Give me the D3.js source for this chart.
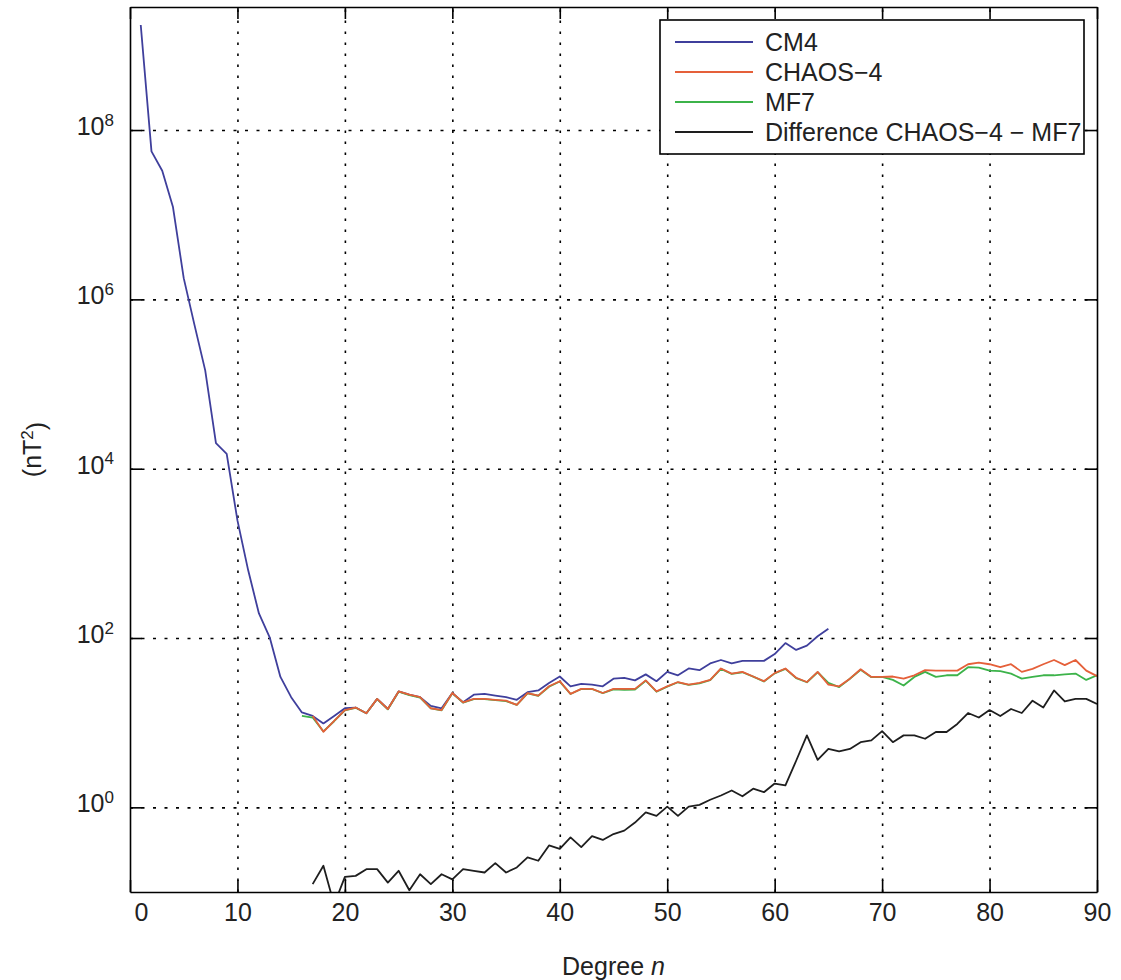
<!DOCTYPE html>
<html>
<head>
<meta charset="utf-8">
<script src="https://cdn.jsdelivr.net/npm/d3@7"></script>
<style>
  html, body { margin: 0; padding: 0; background: #fff; }
  svg { display: block; font-family: "Liberation Sans", Arial, Helvetica, sans-serif; }
</style>
</head>
<body>
<svg id="chart" width="1121" height="980"></svg>
<script>
// ---- data ----
const xTicks = [0, 10, 20, 30, 40, 50, 60, 70, 80, 90];
const yTicks = [1, 1e2, 1e4, 1e6, 1e8];
const yTickExponents = ["0", "2", "4", "6", "8"];
const xDomain = [0, 90];
const yDomain = [0.1, 2.84e9];

const cm4Start = 1;
const cm4Values = [1.74e9, 5.6e7, 3.3e7, 1.23e7, 1.78e6, 5.0e5, 1.45e5, 2.0e4, 1.5e4, 2450,
  630, 195, 102, 34.7, 20.0, 13.2, 12.0, 9.8, 12.0, 14.8,
  15.1, 12.9, 19.1, 14.5, 23.4, 21.4, 20.0, 15.8, 14.8, 22.4,
  17.4, 21.4, 21.9, 20.9, 20.0, 18.6, 22.9, 24.0, 29.5, 35.1,
  26.9, 28.8, 28.2, 26.9, 33.1, 33.9, 31.6, 37.2, 30.9, 39.8,
  36.3, 43.7, 41.7, 50.1, 55.0, 50.1, 53.7, 53.7, 53.7, 64.6,
  87.1, 72.4, 81.3, 105, 129];

const chaosStart = 17;
const chaosValues = [12.0, 7.8, 10.5, 14.1, 15.1, 12.9, 19.1, 14.5, 23.4, 21.4,
  20.0, 14.8, 14.1, 22.4, 17.4, 19.1, 19.1, 18.6, 18.2, 16.2,
  22.4, 20.9, 26.9, 30.9, 21.9, 25.1, 25.1, 22.4, 25.1, 25.1,
  25.1, 31.6, 23.4, 26.9, 30.2, 28.2, 29.5, 32.0, 43.7, 38.0,
  39.8, 35.1, 30.9, 38.5, 43.7, 33.9, 30.2, 39.8, 28.2, 26.9,
  33.1, 42.7, 34.7, 34.7, 35.1, 33.1, 36.3, 41.7, 41.2, 41.2,
  41.2, 49.0, 51.3, 49.0, 45.2, 49.0, 39.8, 43.2, 49.0, 55.0,
  47.9, 55.0, 41.2, 35.5];

const mf7Start = 16;
const mf7Values = [12.0, 11.5, 7.9, 10.4, 14.0, 15.0, 12.9, 19.0, 14.4, 23.2,
  21.2, 19.8, 14.8, 14.0, 22.2, 17.3, 19.0, 19.0, 18.5, 18.0,
  16.2, 22.2, 20.8, 26.6, 30.6, 21.8, 25.0, 25.0, 22.3, 24.8,
  24.5, 24.6, 31.3, 23.2, 26.6, 30.0, 28.0, 29.2, 31.8, 43.2,
  37.6, 39.4, 35.0, 30.6, 38.2, 43.2, 33.6, 30.0, 39.4, 29.5,
  26.3, 33.0, 42.2, 34.5, 34.7, 32.0, 27.5, 34.7, 39.8, 34.7,
  36.3, 36.3, 45.2, 44.7, 41.2, 40.7, 38.0, 33.1, 34.7, 36.3,
  36.3, 37.2, 38.0, 32.0, 36.3];

const diffStart = 17;
const diffValues = [0.124, 0.204, 0.071, 0.151, 0.155, 0.186, 0.186, 0.129, 0.178, 0.105,
  0.162, 0.124, 0.162, 0.141, 0.186, 0.178, 0.170, 0.219, 0.170, 0.195,
  0.257, 0.234, 0.355, 0.324, 0.442, 0.339, 0.457, 0.412, 0.484, 0.531,
  0.661, 0.871, 0.794, 1.02, 0.794, 1.02, 1.07, 1.23, 1.38, 1.58,
  1.35, 1.66, 1.51, 1.91, 1.82, 3.55, 7.08, 3.63, 4.90, 4.57,
  4.90, 5.89, 6.17, 7.94, 5.89, 7.08, 7.08, 6.46, 7.76, 7.76,
  9.66, 13.0, 11.5, 14.1, 12.0, 14.5, 13.0, 18.2, 15.1, 24.0,
  17.8, 19.1, 19.1, 16.6];

const seriesNames = ["CM4", "CHAOS\u22124", "MF7", "Difference CHAOS\u22124 \u2212 MF7"];
const seriesColors = ["#3f3f9c", "#e5603a", "#3cb34a", "#1e1e1e"];

(function () {
// ---- layout ----
const pL = 130, pR = 1097, pT = 7, pB = 892;
const W = pR - pL, H = pB - pT;

const svg = d3.select("#chart");
const x = d3.scaleLinear().domain(xDomain).range([pL, pR]);
const y = d3.scaleLog().domain(yDomain).range([pB, pT]);

function toPoints(start, values) {
  return values.map((v, i) => ({ n: start + i, v }));
}

// grid
const gridX = svg.append("g").attr("transform", `translate(0,${pB})`)
  .call(d3.axisBottom(x).tickValues(xTicks.slice(1, -1)).tickSize(-H).tickFormat(""));
gridX.select(".domain").remove();
gridX.selectAll(".tick line").attr("stroke", "#000").attr("stroke-width", 1.6)
  .attr("stroke-dasharray", "2.5,8.5");

const gridY = svg.append("g").attr("transform", `translate(${pL},0)`)
  .call(d3.axisLeft(y).tickValues(yTicks).tickSize(-W).tickFormat(""));
gridY.select(".domain").remove();
gridY.selectAll(".tick line").attr("stroke", "#000").attr("stroke-width", 1.6)
  .attr("stroke-dasharray", "3,8.5");

// clip
svg.append("clipPath").attr("id", "plotclip").append("rect")
  .attr("x", pL).attr("y", pT).attr("width", W).attr("height", H);

const line = d3.line().x(d => x(d.n)).y(d => y(d.v));
const plot = svg.append("g").attr("clip-path", "url(#plotclip)");

const drawOrder = [
  { pts: toPoints(cm4Start, cm4Values), color: seriesColors[0] },
  { pts: toPoints(mf7Start, mf7Values), color: seriesColors[2] },
  { pts: toPoints(chaosStart, chaosValues), color: seriesColors[1] },
  { pts: toPoints(diffStart, diffValues), color: seriesColors[3] }
];
drawOrder.forEach(s => {
  plot.append("path").datum(s.pts).attr("d", line)
    .attr("fill", "none").attr("stroke", s.color).attr("stroke-width", 1.8)
    .attr("stroke-linejoin", "round");
});

// axes with inward ticks
const axisStyle = g => {
  g.select(".domain").attr("stroke", "#000").attr("stroke-width", 1.6);
  g.selectAll(".tick line").attr("stroke", "#000").attr("stroke-width", 1.6);
};
const xAxisB = svg.append("g").attr("transform", `translate(0,${pB})`)
  .call(d3.axisBottom(x).tickValues(xTicks).tickSizeInner(-12).tickSizeOuter(0).tickPadding(11));
axisStyle(xAxisB);
xAxisB.selectAll(".tick text").attr("font-size", 25).attr("fill", "#222")
  .attr("font-family", "Liberation Sans, Arial, sans-serif")
  .attr("dx", d => d === 0 ? 11 : 0);

const xAxisT = svg.append("g").attr("transform", `translate(0,${pT})`)
  .call(d3.axisTop(x).tickValues(xTicks).tickSizeInner(-12).tickSizeOuter(0).tickFormat(""));
axisStyle(xAxisT);

const yAxisL = svg.append("g").attr("transform", `translate(${pL},0)`)
  .call(d3.axisLeft(y).tickValues(yTicks).tickSizeInner(-12).tickSizeOuter(0).tickPadding(16).tickFormat(""));
axisStyle(yAxisL);
yAxisL.selectAll(".tick text").each(function(d, i) {
  const t = d3.select(this).attr("font-size", 25).attr("fill", "#222").attr("dy", "0.18em")
    .attr("font-family", "Liberation Sans, Arial, sans-serif");
  t.append("tspan").text("10");
  t.append("tspan").attr("dy", "-0.55em").attr("font-size", 17).text(yTickExponents[i]);
});

const yAxisR = svg.append("g").attr("transform", `translate(${pR},0)`)
  .call(d3.axisRight(y).tickValues(yTicks).tickSizeInner(-12).tickSizeOuter(0).tickFormat(""));
axisStyle(yAxisR);

// axis labels
svg.append("text").attr("x", (pL + pR) / 2).attr("y", 975)
  .attr("text-anchor", "middle").attr("font-size", 25).attr("fill", "#222")
  .call(t => {
    t.append("tspan").text("Degree ");
    t.append("tspan").attr("font-style", "italic").text("n");
  });

svg.append("text").attr("transform", `translate(41,${(pT + pB) / 2}) rotate(-90)`)
  .attr("text-anchor", "middle").attr("font-size", 25).attr("fill", "#222")
  .call(t => {
    t.append("tspan").text("(nT");
    t.append("tspan").attr("dy", "-0.5em").attr("font-size", 17).text("2");
    t.append("tspan").attr("dy", "0.5em").text(")");
  });

// legend
const lg = svg.append("g");
lg.append("rect").attr("x", 660).attr("y", 20).attr("width", 424).attr("height", 134)
  .attr("fill", "#fff").attr("stroke", "#000").attr("stroke-width", 1.6);
seriesNames.forEach((name, i) => {
  const cy = 42 + i * 30;
  lg.append("line").attr("x1", 675).attr("x2", 753).attr("y1", cy).attr("y2", cy)
    .attr("stroke", seriesColors[i]).attr("stroke-width", 1.8);
  lg.append("text").attr("x", 765).attr("y", cy).attr("dy", "0.36em")
    .attr("font-size", 25).attr("fill", "#222").text(name);
});
})();
</script>
</body>
</html>
